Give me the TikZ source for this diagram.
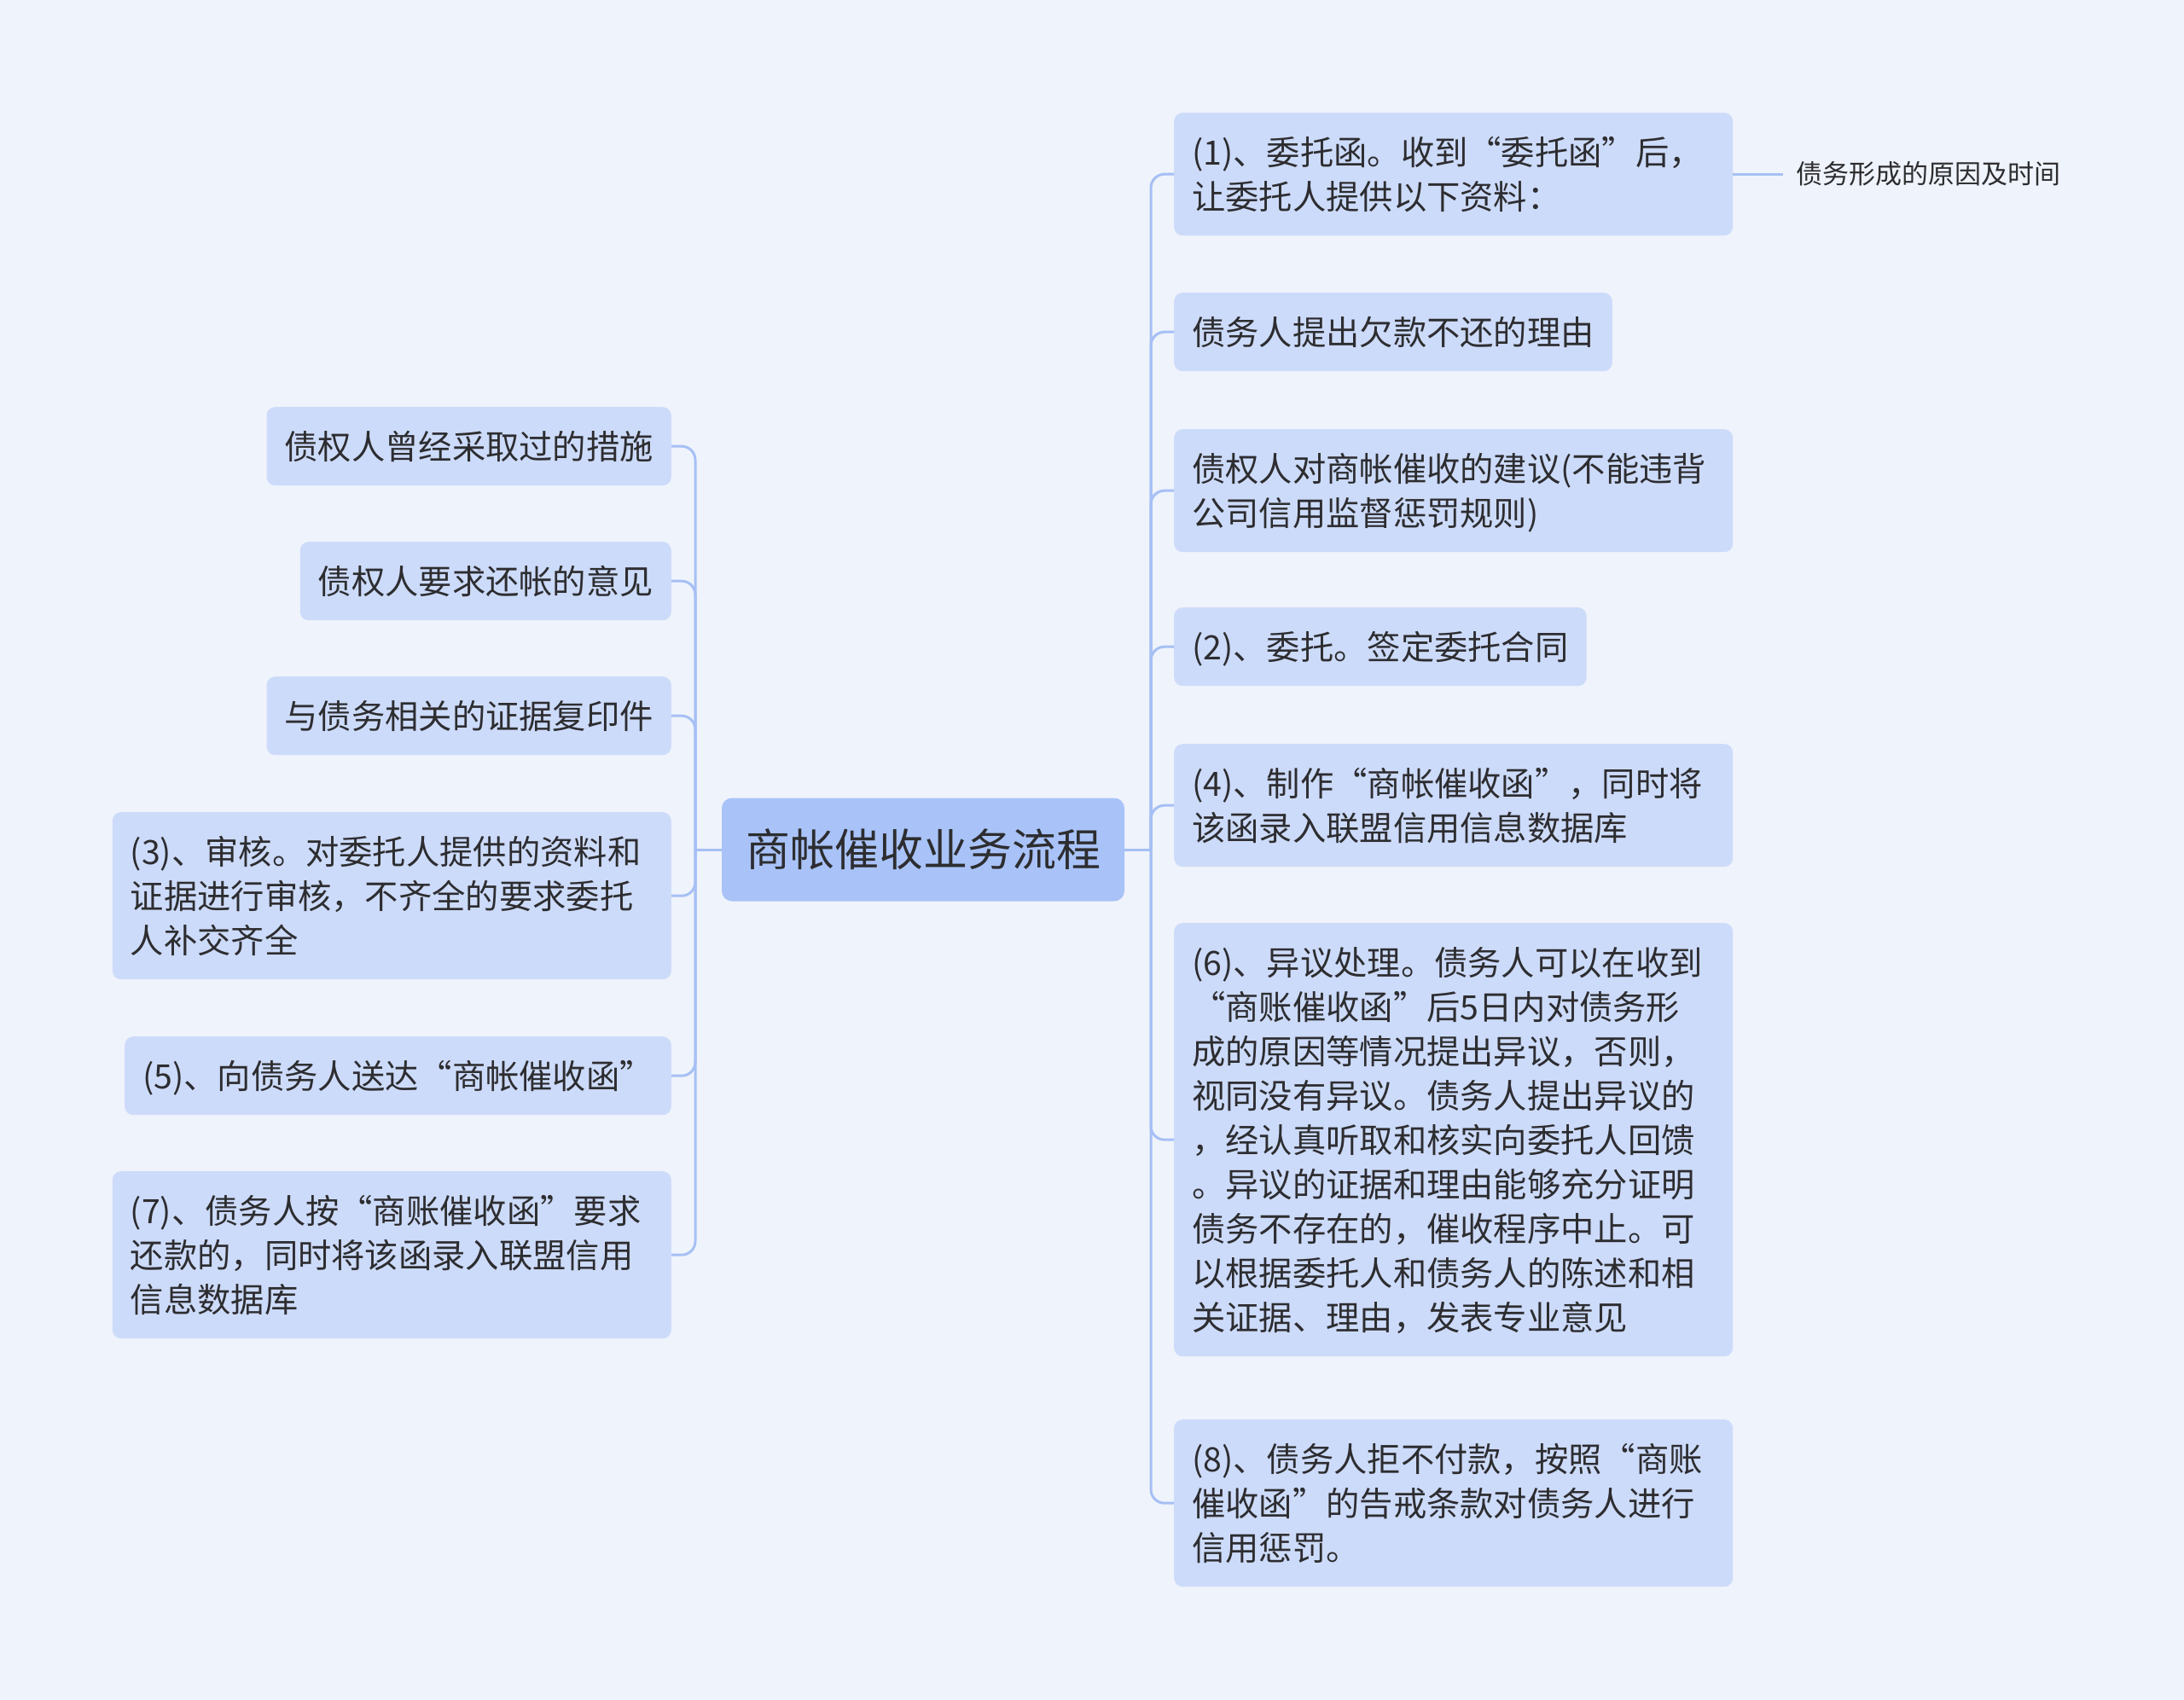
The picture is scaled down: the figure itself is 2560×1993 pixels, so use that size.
\documentclass[tikz,border=0pt]{standalone}
\usepackage{fontspec}
\setmainfont{Noto Sans CJK SC}
\XeTeXlinebreaklocale "zh"
\definecolor{bgc}{RGB}{239,243,251}
\definecolor{childc}{RGB}{205,219,250}
\definecolor{centc}{RGB}{169,195,248}
\definecolor{linec}{RGB}{166,192,245}
\definecolor{textc}{RGB}{45,45,48}
\newcommand\mystrut{\rule[-11pt]{0pt}{52pt}}
\tikzset{
  child/.style={fill=childc, text=textc, rounded corners=10pt, inner xsep=21pt, inner ysep=20pt,
    font=\fontsize{39.3}{52}\selectfont, align=left,
    execute at begin node=\mystrut, execute at end node=\mystrut},
  wide/.style={child, text width=613pt},
  centre/.style={fill=centc, text=textc, rounded corners=12pt, font=\fontsize{52}{62}\selectfont,
    minimum width=472pt, minimum height=121pt, inner sep=0pt},
  subnode/.style={text=textc, font=\fontsize{31}{38}\selectfont, inner xsep=15pt, inner ysep=4pt},
  conn/.style={draw=linec, line width=3pt, rounded corners=16pt},
}
\begin{document}
\begin{tikzpicture}[x=1pt,y=-1pt]
\fill[bgc] (0,0) rectangle (2560,1993);
\useasboundingbox (0,0) rectangle (2560,1993);

\node[centre] (c) at (1082,996) {商帐催收业务流程};

% right side
\node[wide, anchor=north west] (r1) at (1376,132) {(1)、委托函。收到“委托函”后，\\让委托人提供以下资料：};
\node[child, anchor=north west] (r2) at (1376,343) {债务人提出欠款不还的理由};
\node[wide, anchor=north west] (r3) at (1376,503) {债权人对商帐催收的建议(不能违背\\公司信用监督惩罚规则)};
\node[child, anchor=north west] (r4) at (1376,712) {(2)、委托。签定委托合同};
\node[wide, anchor=north west] (r5) at (1376,872) {(4)、制作“商帐催收函”，同时将\\该函录入联盟信用信息数据库};
\node[wide, anchor=north west] (r6) at (1376,1082) {(6)、异议处理。债务人可以在收到\\“商账催收函”后5日内对债务形\\成的原因等情况提出异议，否则，\\视同没有异议。债务人提出异议的\\，经认真听取和核实向委托人回馈\\。异议的证据和理由能够充分证明\\债务不存在的，催收程序中止。可\\以根据委托人和债务人的陈述和相\\关证据、理由，发表专业意见};
\node[wide, anchor=north west] (r7) at (1376,1664) {(8)、债务人拒不付款，按照“商账\\催收函”的告戒条款对债务人进行\\信用惩罚。};
\node[subnode, anchor=west] (s1) at ([xshift=59pt]r1.east) {债务形成的原因及时间};

% left side
\node[child, anchor=north east] (l1) at (787,477) {债权人曾经采取过的措施};
\node[child, anchor=north east] (l2) at (787,635) {债权人要求还帐的意见};
\node[child, anchor=north east] (l3) at (787,793) {与债务相关的证据复印件};
\node[wide, anchor=north east] (l4) at (787,952) {(3)、审核。对委托人提供的资料和\\证据进行审核，不齐全的要求委托\\人补交齐全};
\node[child, anchor=north east] (l5) at (787,1215) {(5)、向债务人送达“商帐催收函”};
\node[wide, anchor=north east] (l6) at (787,1373) {(7)、债务人按“商账催收函”要求\\还款的，同时将该函录入联盟信用\\信息数据库};

% connectors
\coordinate (rj) at (1349,996);
\coordinate (lj) at (815,996);
\draw[conn] (c.east) -- (rj);
\draw[conn] (c.west) -- (lj);
\foreach \n in {r1,r2,r3,r4,r5,r6,r7} \draw[conn] (rj) |- (\n.west);
\foreach \n in {l1,l2,l3,l4,l5,l6} \draw[conn] (lj) |- (\n.east);
\draw[conn] (r1.east) -- (s1.west);
\end{tikzpicture}
\end{document}
